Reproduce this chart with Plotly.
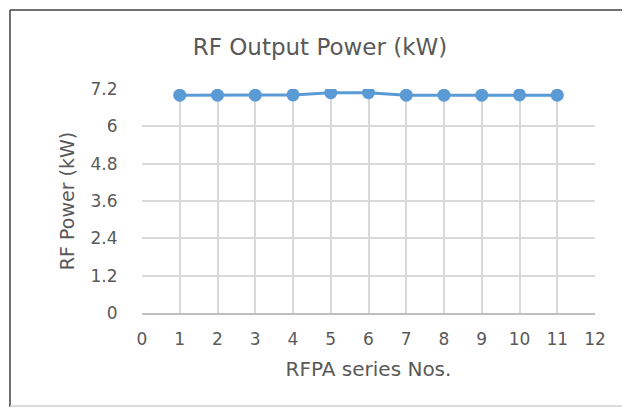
import plotly.graph_objects as go

rfpa_nos = [1, 2, 3, 4, 5, 6, 7, 8, 9, 10, 11]
rf_power_kw = [7.0, 7.0, 7.0, 7.01, 7.08, 7.08, 7.0, 7.0, 7.0, 7.01, 7.0]
y_ticks = [0, 1.2, 2.4, 3.6, 4.8, 6.0, 7.2]
y_tick_labels = ["0", "1.2", "2.4", "3.6", "4.8", "6", "7.2"]
x_ticks = list(range(0, 13))

# page body has an 8px margin; lay out in screen coords and shift
OFF = 8
W, H = 630 - OFF, 409 - OFF
L, R, T, B = 142 - OFF, 630 - 595, 89 - OFF, 409 - 313
pw, ph = W - L - R, H - T - B

def px(x):
    return (x - OFF - L) / pw

def py(y):
    return (H - B - (y - OFF)) / ph

FONT = "DejaVu Sans, Open Sans, sans-serif"
font_color = "#595959"

fig = go.Figure()
fig.add_trace(go.Scatter(
    x=rfpa_nos, y=rf_power_kw, mode="lines+markers",
    line=dict(color="#5b9bd5", width=3),
    marker=dict(color="#5b9bd5", size=13),
    showlegend=False,
))

fig.update_layout(
    width=W, height=H,
    margin=dict(l=L, r=R, t=T, b=B),
    paper_bgcolor="white", plot_bgcolor="white",
    font=dict(family=FONT, color=font_color, size=16),
    title=dict(text="RF Output Power (kW)", x=px(320), xanchor="center",
               xref="paper", y=1 - (47 - OFF) / H, yanchor="middle",
               font=dict(size=23, color=font_color, family=FONT)),
    xaxis=dict(range=[0, 12], tickvals=x_ticks, showgrid=True,
               gridcolor="#d9d9d9", gridwidth=1.5, zeroline=False,
               showline=True, linecolor="#bfbfbf", linewidth=1.5,
               ticks="outside", ticklen=10, tickcolor="rgba(0,0,0,0)",
               tickfont=dict(size=17, color=font_color, family=FONT),
               title=dict(text="RFPA series Nos.",
                          font=dict(size=20, color=font_color, family=FONT),
                          standoff=14)),
    yaxis=dict(range=[0, 7.2], tickvals=y_ticks, ticktext=y_tick_labels,
               showgrid=True, gridcolor="#d9d9d9", gridwidth=1.5, zeroline=False,
               showline=False, ticks="outside", ticklen=20,
               tickcolor="rgba(0,0,0,0)",
               tickfont=dict(size=17, color=font_color, family=FONT),
               title=dict(text="RF Power (kW)",
                          font=dict(size=19, color=font_color, family=FONT),
                          standoff=10)),
)

# outer chart frame
fig.add_shape(type="line", xref="paper", yref="paper",
              x0=px(10), x1=px(628), y0=py(10), y1=py(10),
              line=dict(color="#404040", width=1.5))
fig.add_shape(type="line", xref="paper", yref="paper",
              x0=px(10), x1=px(10), y0=py(10), y1=py(407),
              line=dict(color="#404040", width=1.5))
fig.add_shape(type="line", xref="paper", yref="paper",
              x0=px(628), x1=px(628), y0=py(10), y1=py(407),
              line=dict(color="#d0d0d0", width=1.5))
fig.add_shape(type="line", xref="paper", yref="paper",
              x0=px(10), x1=px(628), y0=py(406), y1=py(406),
              line=dict(color="#d0d0d0", width=1.5))

fig.write_html("out.html")
